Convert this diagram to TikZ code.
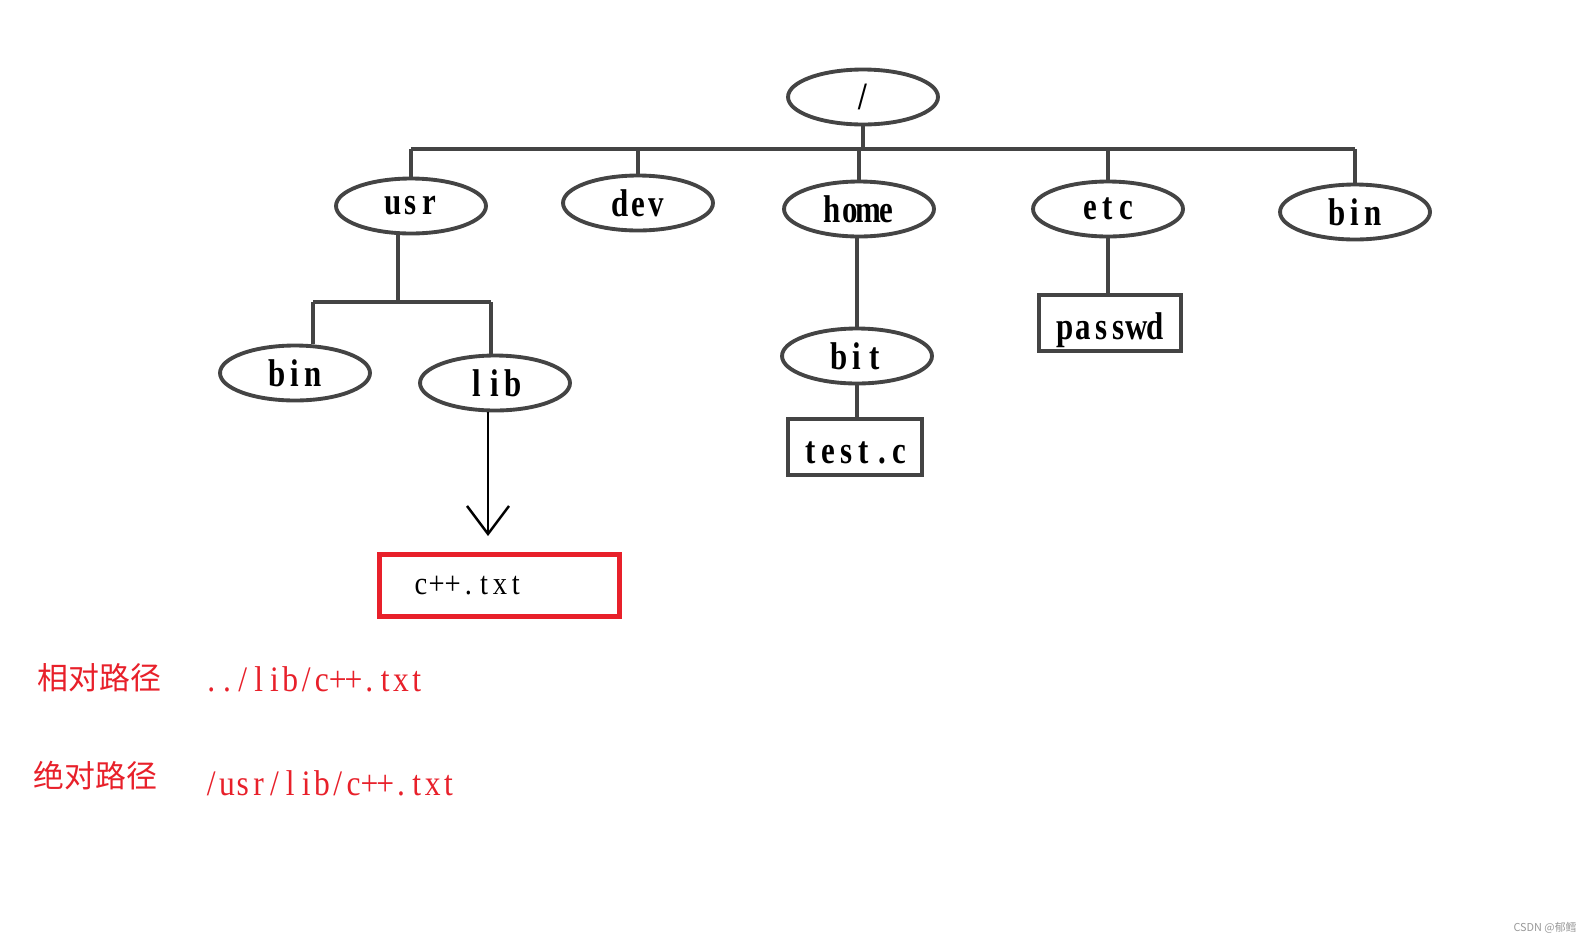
\documentclass[tikz,border=0pt]{standalone}
\usepackage{fontspec}
\usepackage{tikz}
\usepackage{xcolor}
\usetikzlibrary{arrows.meta,positioning,shapes.geometric}
\setmainfont{Liberation Serif}
\newfontfamily\treefont[FakeStretch=0.8]{Liberation Serif}
\newfontfamily\pathfont[FakeStretch=0.88]{Liberation Serif}
\newfontfamily\cjk{Noto Sans CJK SC}
\definecolor{edge}{HTML}{444444}
\definecolor{mark}{HTML}{E8202A}
\definecolor{muted}{HTML}{9A9A9A}
\newlength\cellw
\def\halfw#1{\ifx\relax#1\else\makebox[\cellw]{#1}\expandafter\halfw\fi}
\newcommand\monotext[1]{\halfw#1\relax}
\tikzset{
  dirnode/.style={ellipse, draw=edge, fill=white, line width=2.2pt,
                  minimum width=3cm, minimum height=1.1cm, inner sep=0pt,
                  font=\treefont\bfseries\fontsize{22pt}{26pt}\selectfont\setlength\cellw{10.2pt}},
  filenode/.style={rectangle, draw=edge, fill=white, line width=2.2pt,
                   minimum height=1.12cm, inner sep=0pt, text height=19pt, text depth=0pt,
                   font=\treefont\bfseries\fontsize{22pt}{26pt}\selectfont\setlength\cellw{10.2pt}},
  tree/.style={draw=edge, line width=2.2pt},
  arrow/.style={-{Straight Barb[length=5.6mm,width=8.4mm]}, line width=1.4pt, draw=black},
  pick/.style={rectangle, draw=mark, line width=2.85pt, minimum height=1.24cm,
               text width=3.46cm, inner xsep=0.67cm, align=left,
               font=\pathfont\fontsize{18.5pt}{22pt}\selectfont\setlength\cellw{9pt}},
  pathtext/.style={anchor=west, inner sep=0pt, text=mark,
                   font=\pathfont\fontsize{20.4pt}{24pt}\selectfont\setlength\cellw{9pt}},
  kind/.style={anchor=west, inner sep=0pt, text=mark, font=\cjk\fontsize{17.6pt}{21pt}\selectfont}
}
\begin{document}
\begin{tikzpicture}[x=0.02cm,y=-0.02cm]
  \useasboundingbox (0,0) rectangle (1594,944);
  \fill[white] (0,0) rectangle (1594,944);
  % directory tree
  \node[dirnode] (root) at (863,97) {\monotext{/}};
  \node[dirnode] (usr) at (411,206) {\monotext{usr}};
  \node[dirnode] (dev) at (638,203) {\monotext{dev}};
  \node[dirnode] (home) at (859,209) {\monotext{home}};
  \node[dirnode] (etc) at (1108,209) {\monotext{etc}};
  \node[dirnode] (binr) at (1355,212) {\monotext{bin}};
  \node[dirnode] (binu) at (295,373) {\monotext{bin}};
  \node[dirnode] (lib) at (495,383) {\monotext{lib}};
  \node[dirnode] (bit) at (857,356) {\monotext{bit}};
  \node[filenode,minimum width=2.68cm] (testc) at (855,447) {\monotext{test.c}};
  \node[filenode,minimum width=2.84cm] (passwd) at (1110,323) {\monotext{passwd}};
  \coordinate (topbar) at (863,149);
  \coordinate (usrbar) at (398,302);
  \coordinate (binubar) at (313,302);
  \coordinate (libbar) at (491,302);
  \draw[tree] (root.south) -- (topbar);
  \draw[tree] (usr.north |- topbar) -- (binr.north |- topbar);
  \foreach \n in {usr,dev,home,etc,binr} {
    \draw[tree] (\n.north) -- (\n.north |- topbar);
  }
  \draw[tree] (usrbar |- usr.south) -- (usrbar);
  \draw[tree] (binubar) -- (libbar);
  \draw[tree] (binubar) -- (binubar |- binu.north);
  \draw[tree] (libbar) -- (libbar |- lib.north);
  \draw[tree] (bit.north) -- (bit.north |- home.south);
  \draw[tree] (bit.south) -- (bit.south |- testc.north);
  \draw[tree] (etc.south) -- (etc.south |- passwd.north);
  % the file reached from lib
  \node[pick] (cpp) at (499.5,585.5) {\monotext{c++.txt}};
  \draw[arrow,shorten >=3.2mm] ([xshift=-0.14cm]lib.south) -- ([xshift=-0.14cm]lib.south |- cpp.north);
  % the two ways to write its path
  \node[kind] (rel) at (37,678) {相对路径};
  \node[pathtext] (relpath) at (203,679) {\monotext{../lib/c++.txt}};
  \node[kind] (abs) at (33,776) {绝对路径};
  \node[pathtext] (abspath) at (203,783) {\monotext{/usr/lib/c++.txt}};
  \node[font=\cjk\fontsize{6.2pt}{7pt}\selectfont,text=muted,inner sep=0pt] (mark) at (1545,928) {CSDN @郁鳕};
\end{tikzpicture}
\end{document}
